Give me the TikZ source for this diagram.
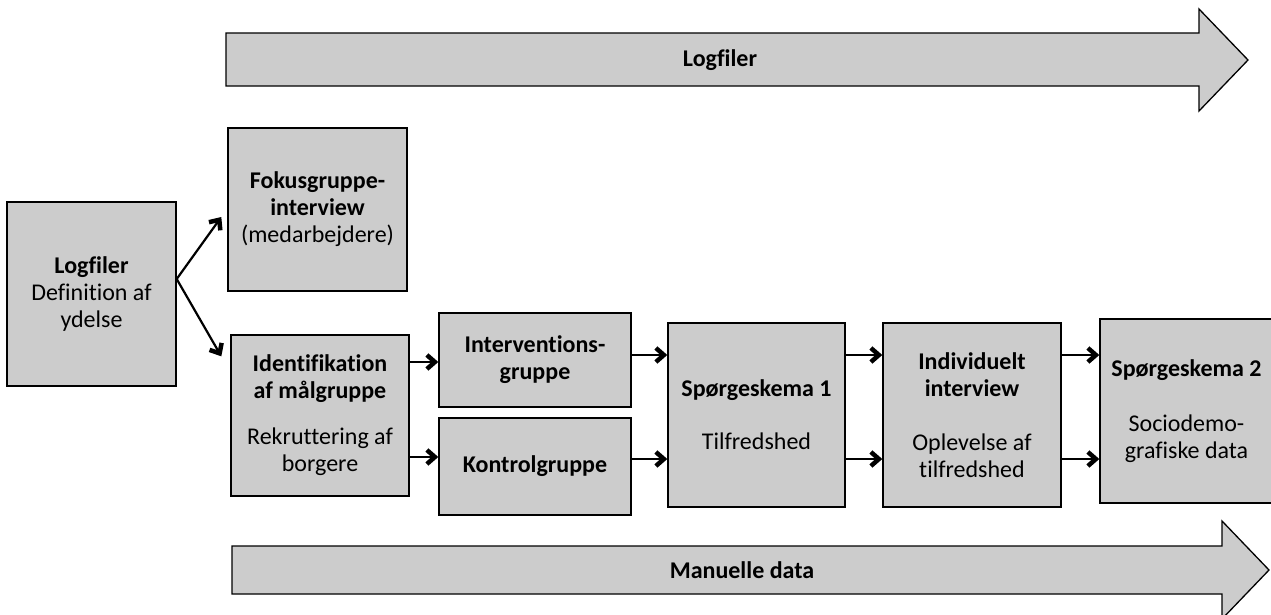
\documentclass[tikz,border=0pt]{standalone}
\usepackage{fontspec}
\setmainfont{Carlito}[Ligatures=CommonOff]
\usetikzlibrary{arrows.meta,calc}
\definecolor{boxgray}{RGB}{204,204,204}
\tikzset{
  box/.style={draw=black, fill=boxgray, line width=1.4pt, inner sep=0pt,
    align=center, font=\fontsize{24}{27}\selectfont},
  conn/.style={line width=2.2pt, line cap=butt,
    -{Straight Barb[length=8pt,width=14pt,line width=4.5pt 0]}},
  band/.style={draw=black, fill=boxgray, line width=1.3pt, line join=miter},
  bandlabel/.style={font=\fontsize{24}{27}\selectfont\bfseries},
}
\begin{document}
\begin{tikzpicture}[x=1pt,y=-1pt]
\useasboundingbox (0,0) rectangle (1271,614);

% time bands
\draw[band] (226,33) -- (1199,33) -- (1199,9) -- (1248,60) -- (1199,111)
  -- (1199,86) -- (226,86) -- cycle;
\node[bandlabel] (toplabel) at (720,60) {Logfiler};
\draw[band] (232,546) -- (1222,546) -- (1222,521) -- (1269,570) -- (1222,619)
  -- (1222,594) -- (232,594) -- cycle;
\node[bandlabel] (botlabel) at (742,570) {Manuelle data};

% process boxes
\node[box, minimum width=169pt, minimum height=184pt] (log) at (91.5,294)
  {\textbf{Logfiler}\\Definition af\\ydelse};
\node[box, minimum width=179pt, minimum height=163pt] (fokus) at (317.5,209.5)
  {\textbf{Fokusgruppe-}\\\textbf{interview}\\(medarbejdere)};
\node[box, minimum width=178pt, minimum height=161pt] (ident) at (320,415.5)
  {\textbf{Identifikation}\\\textbf{af målgruppe}\\[19pt]Rekruttering af\\borgere};
\node[box, minimum width=192pt, minimum height=94pt] (interv) at (535,360)
  {\textbf{Interventions-}\\\textbf{gruppe}};
\node[box, minimum width=192pt, minimum height=97pt] (kontrol) at (535,466.5)
  {\textbf{Kontrolgruppe}};
\node[box, minimum width=177pt, minimum height=184pt] (sp1) at (756.5,415)
  {\textbf{Spørgeskema 1}\\[26pt]Tilfredshed};
\node[box, minimum width=178pt, minimum height=184pt] (ind) at (972,415)
  {\textbf{Individuelt}\\\textbf{interview}\\[27pt]Oplevelse af\\tilfredshed};
\node[box, minimum width=173pt, minimum height=184pt] (sp2) at (1186.5,411)
  {\textbf{Spørgeskema 2}\\[28pt]Sociodemo-\\grafiske data};

% connector rows
\coordinate (rowI) at (0,362);
\coordinate (rowK) at (0,457);
\coordinate (rowA) at (0,355);
\coordinate (rowB) at (0,459);

% connectors
\draw[conn] ([yshift=15pt]log.east) -- ([xshift=-6pt,yshift=-7.5pt]fokus.west);
\draw[conn] ([yshift=15pt]log.east) -- ([xshift=-9pt,yshift=-22pt]ident.north west);
\draw[conn] (ident.east |- rowI) -- (interv.west |- rowI);
\draw[conn] (ident.east |- rowK) -- (kontrol.west |- rowK);
\draw[conn] (interv.east |- rowA) -- (sp1.west |- rowA);
\draw[conn] (kontrol.east |- rowB) -- (sp1.west |- rowB);
\draw[conn] (sp1.east |- rowA) -- (ind.west |- rowA);
\draw[conn] (sp1.east |- rowB) -- (ind.west |- rowB);
\draw[conn] (ind.east |- rowA) -- (sp2.west |- rowA);
\draw[conn] (ind.east |- rowB) -- (sp2.west |- rowB);
\end{tikzpicture}
\end{document}
